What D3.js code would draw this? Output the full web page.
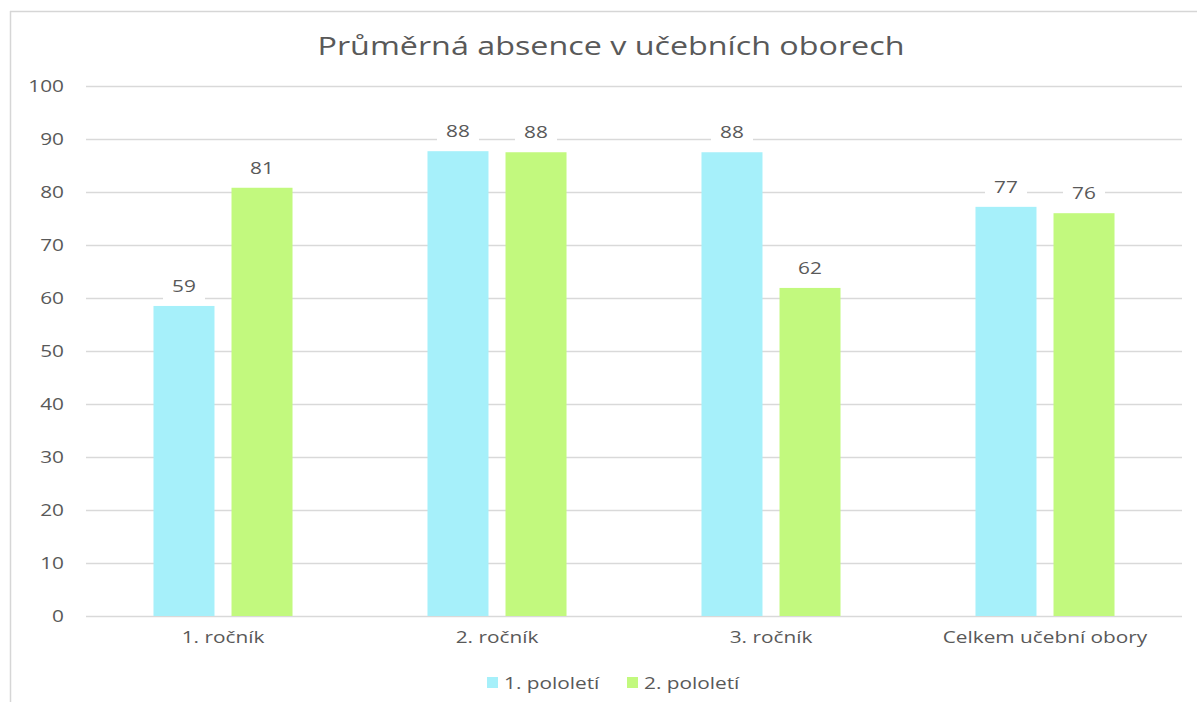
<!DOCTYPE html>
<html>
<head>
<meta charset="utf-8">
<script src="https://cdn.jsdelivr.net/npm/d3@7"></script>
<style>
  html, body { margin: 0; padding: 0; background: #fff; }
  svg { display: block; }
  text { font-family: "Open Sans", "Noto Sans", sans-serif; fill: #595959; }
</style>
</head>
<body>
<script>
const title = "Průměrná absence v učebních oborech";
const categories = ["1. ročník", "2. ročník", "3. ročník", "Celkem učební obory"];
const seriesNames = ["1. pololetí", "2. pololetí"];
const series1 = [58.5, 87.7, 87.5, 77.2];
const series2 = [80.8, 87.5, 61.9, 76.0];
const seriesLabels1 = ["59", "88", "88", "77"];
const seriesLabels2 = ["81", "88", "62", "76"];
const yTicks = [0, 10, 20, 30, 40, 50, 60, 70, 80, 90, 100];
const colors = ["#a6f0fa", "#c2f97e"];

const W = 1197, H = 702;
const svg = d3.select("body").append("svg").attr("width", W).attr("height", H);

// frame (clipped at right and bottom)
svg.append("line").attr("x1", 10.5).attr("x2", 10.5).attr("y1", 11).attr("y2", H)
  .attr("stroke", "#d6d6d6").attr("stroke-width", 1.5);
svg.append("line").attr("x1", 10).attr("x2", W).attr("y1", 11.5).attr("y2", 11.5)
  .attr("stroke", "#d6d6d6").attr("stroke-width", 1.5);

const plot = { left: 86, right: 1182, top: 86, bottom: 616 };
const y = d3.scaleLinear().domain([0, 100]).range([plot.bottom, plot.top]);
const x0 = d3.scaleBand().domain(categories).range([plot.left, plot.right]).padding(0);
const x1 = d3.scaleBand().domain(seriesNames).range([0, x0.bandwidth()])
  .paddingInner(0.218).paddingOuter(0.865);

const STRETCH = 1.3;
function stretch(sel, k) {
  sel.each(function () {
    const len = this.getComputedTextLength();
    d3.select(this).attr("textLength", len * k).attr("lengthAdjust", "spacingAndGlyphs");
  });
}

// gridlines
svg.append("g").selectAll("line").data(yTicks).join("line")
  .attr("x1", plot.left).attr("x2", plot.right)
  .attr("y1", d => y(d) + 0.5).attr("y2", d => y(d) + 0.5)
  .attr("stroke", "#d9d9d9").attr("stroke-width", 1.5);

// y tick labels
const yl = svg.append("g").selectAll("text").data(yTicks).join("text")
  .attr("x", 64).attr("y", d => y(d) + 6)
  .attr("text-anchor", "end").attr("font-size", 16)
  .text(d => d);
stretch(yl, STRETCH);

// bars
const data = categories.map((c, i) => ({
  cat: c,
  vals: [
    { s: seriesNames[0], v: series1[i], lab: seriesLabels1[i], col: colors[0] },
    { s: seriesNames[1], v: series2[i], lab: seriesLabels2[i], col: colors[1] }
  ]
}));

const groups = svg.append("g").selectAll("g").data(data).join("g")
  .attr("transform", d => `translate(${x0(d.cat)},0)`);

groups.selectAll("rect.bar").data(d => d.vals).join("rect")
  .attr("class", "bar")
  .attr("x", d => x1(d.s)).attr("width", x1.bandwidth())
  .attr("y", d => y(d.v)).attr("height", d => y(0) - y(d.v))
  .attr("fill", d => d.col);

// label background boxes
groups.selectAll("rect.lb").data(d => d.vals).join("rect")
  .attr("class", "lb")
  .attr("x", d => x1(d.s) + x1.bandwidth() / 2 - 21).attr("width", 42)
  .attr("y", d => y(d.v) - 33).attr("height", 28)
  .attr("fill", "#fff");

const labs = groups.selectAll("text.vl").data(d => d.vals).join("text")
  .attr("class", "vl")
  .attr("x", d => x1(d.s) + x1.bandwidth() / 2)
  .attr("y", d => y(d.v) - 14)
  .attr("text-anchor", "middle").attr("font-size", 16)
  .text(d => d.lab);
stretch(labs, STRETCH);

// x labels
const xl = svg.append("g").selectAll("text").data(categories).join("text")
  .attr("x", d => x0(d) + x0.bandwidth() / 2).attr("y", 643)
  .attr("text-anchor", "middle").attr("font-size", 16)
  .text(d => d);
stretch(xl, STRETCH);

// title
svg.append("text").attr("x", 611).attr("y", 55)
  .attr("text-anchor", "middle").attr("font-size", 26)
  .attr("textLength", 587).attr("lengthAdjust", "spacingAndGlyphs")
  .text(title);

// legend
const legX = [487, 627];
const leg = svg.append("g").selectAll("g").data(seriesNames).join("g")
  .attr("transform", (d, i) => `translate(${legX[i]},677)`);
leg.append("rect").attr("width", 11).attr("height", 11).attr("fill", (d, i) => colors[i]);
const lt = leg.append("text").attr("x", 17).attr("y", 11.5).attr("font-size", 16).text(d => d);
stretch(lt, STRETCH);
</script>
</body>
</html>
